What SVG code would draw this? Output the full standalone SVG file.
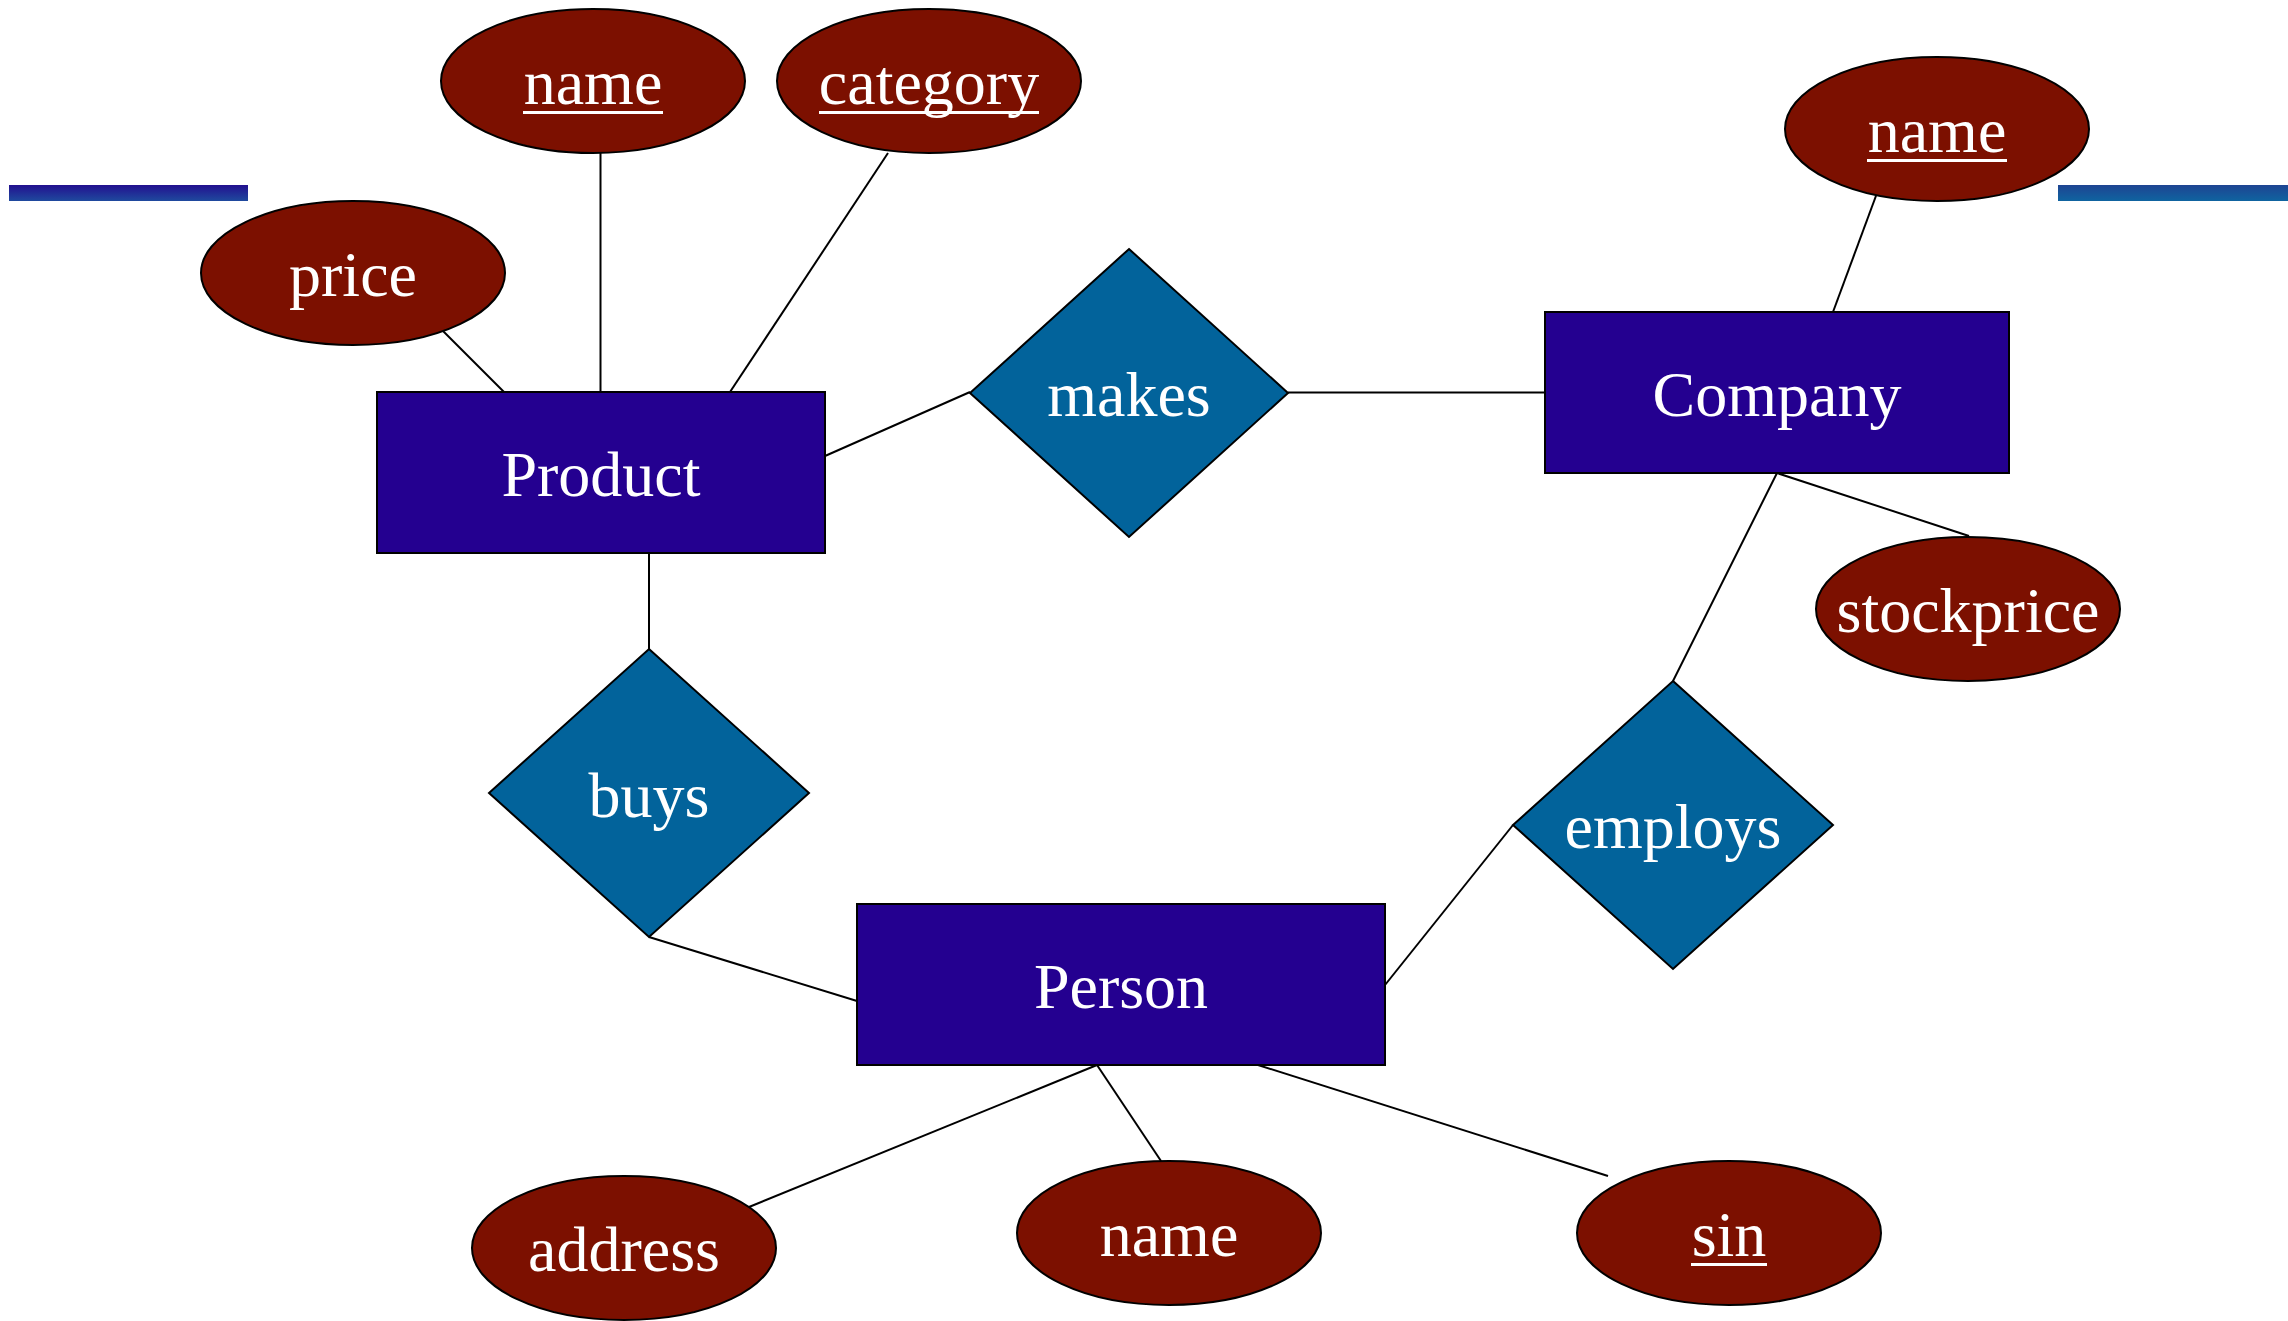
<svg xmlns="http://www.w3.org/2000/svg" width="2288" height="1321" viewBox="0 0 2288 1321">
  <defs>
    <linearGradient id="barLeft" x1="0" y1="0" x2="0" y2="1">
      <stop offset="0" stop-color="#22108f"/>
      <stop offset="1" stop-color="#1f4a9e"/>
    </linearGradient>
    <linearGradient id="barRight" x1="0" y1="0" x2="0" y2="1">
      <stop offset="0" stop-color="#1e4492"/>
      <stop offset="1" stop-color="#0f64a0"/>
    </linearGradient>
    <style>
      .entity { fill: #240090; stroke: #000; stroke-width: 2; }
      .relation { fill: #02639b; stroke: #000; stroke-width: 2; }
      .attr { fill: #7c1000; stroke: #000; stroke-width: 2; }
      .label { font-family: "Liberation Serif", "Times New Roman", serif; font-size: 64px; fill: #fff; text-anchor: middle; }
      .uline { fill: #fff; }
      .edge { stroke: #000; stroke-width: 2; fill: none; }
    </style>
  </defs>

  <rect width="2288" height="1321" fill="#fff"/>

  <!-- slide decoration bars -->
  <rect x="9" y="185" width="239" height="16" fill="url(#barLeft)"/>
  <rect x="2058" y="185" width="230" height="16" fill="url(#barRight)"/>

  <!-- connectors -->
  <g id="connectors">
    <line class="edge" x1="443" y1="331" x2="504" y2="392"/>
    <line class="edge" x1="600.5" y1="153" x2="600.5" y2="392"/>
    <line class="edge" x1="888" y1="153" x2="730" y2="392"/>
    <line class="edge" x1="825" y1="456" x2="970" y2="392"/>
    <line class="edge" x1="1288" y1="392.5" x2="1545" y2="392.5"/>
    <line class="edge" x1="1880" y1="185" x2="1833" y2="312"/>
    <line class="edge" x1="1777" y1="473" x2="1969" y2="536"/>
    <line class="edge" x1="1777" y1="473" x2="1673" y2="681"/>
    <line class="edge" x1="649" y1="553" x2="649" y2="649"/>
    <line class="edge" x1="649" y1="937" x2="857" y2="1001"/>
    <line class="edge" x1="1513" y1="825" x2="1385" y2="985"/>
    <line class="edge" x1="1097" y1="1065" x2="749" y2="1207"/>
    <line class="edge" x1="1097" y1="1065" x2="1161" y2="1161"/>
    <line class="edge" x1="1258" y1="1065" x2="1608" y2="1176"/>
  </g>

  <!-- entities -->
  <g id="product">
    <rect class="entity" x="377" y="392" width="448" height="161"/>
    <text class="label" x="601" y="496">Product</text>
  </g>
  <g id="company">
    <rect class="entity" x="1545" y="312" width="464" height="161"/>
    <text class="label" x="1777" y="416">Company</text>
  </g>
  <g id="person">
    <rect class="entity" x="857" y="904" width="528" height="161"/>
    <text class="label" x="1121" y="1008">Person</text>
  </g>

  <!-- relationships -->
  <g id="makes">
    <polygon class="relation" points="1129,249 1288,393 1129,537 970,393"/>
    <text class="label" x="1129" y="416">makes</text>
  </g>
  <g id="buys">
    <polygon class="relation" points="649,649 809,793 649,937 489,793"/>
    <text class="label" x="649" y="817">buys</text>
  </g>
  <g id="employs">
    <polygon class="relation" points="1673,681 1833,825 1673,969 1513,825"/>
    <text class="label" x="1673" y="848">employs</text>
  </g>

  <!-- attributes (key attributes carry a solid underline bar) -->
  <g id="product-name">
    <ellipse class="attr" cx="593" cy="81" rx="152" ry="72"/>
    <text class="label" x="593" y="104">name</text>
    <rect class="uline" x="523" y="111" width="140" height="3"/>
  </g>
  <g id="product-category">
    <ellipse class="attr" cx="929" cy="81" rx="152" ry="72"/>
    <text class="label" x="929" y="104">category</text>
    <rect class="uline" x="819" y="111" width="220" height="3"/>
  </g>
  <g id="product-price">
    <ellipse class="attr" cx="353" cy="273" rx="152" ry="72"/>
    <text class="label" x="353" y="296">price</text>
  </g>
  <g id="company-name">
    <ellipse class="attr" cx="1937" cy="129" rx="152" ry="72"/>
    <text class="label" x="1937" y="152">name</text>
    <rect class="uline" x="1867" y="159" width="140" height="3"/>
  </g>
  <g id="company-stockprice">
    <ellipse class="attr" cx="1968" cy="609" rx="152" ry="72"/>
    <text class="label" x="1968" y="632">stockprice</text>
  </g>
  <g id="person-address">
    <ellipse class="attr" cx="624" cy="1248" rx="152" ry="72"/>
    <text class="label" x="624" y="1271">address</text>
  </g>
  <g id="person-name">
    <ellipse class="attr" cx="1169" cy="1233" rx="152" ry="72"/>
    <text class="label" x="1169" y="1256">name</text>
  </g>
  <g id="person-sin">
    <ellipse class="attr" cx="1729" cy="1233" rx="152" ry="72"/>
    <text class="label" x="1729" y="1256">sin</text>
    <rect class="uline" x="1691" y="1263" width="76" height="3"/>
  </g>
</svg>
